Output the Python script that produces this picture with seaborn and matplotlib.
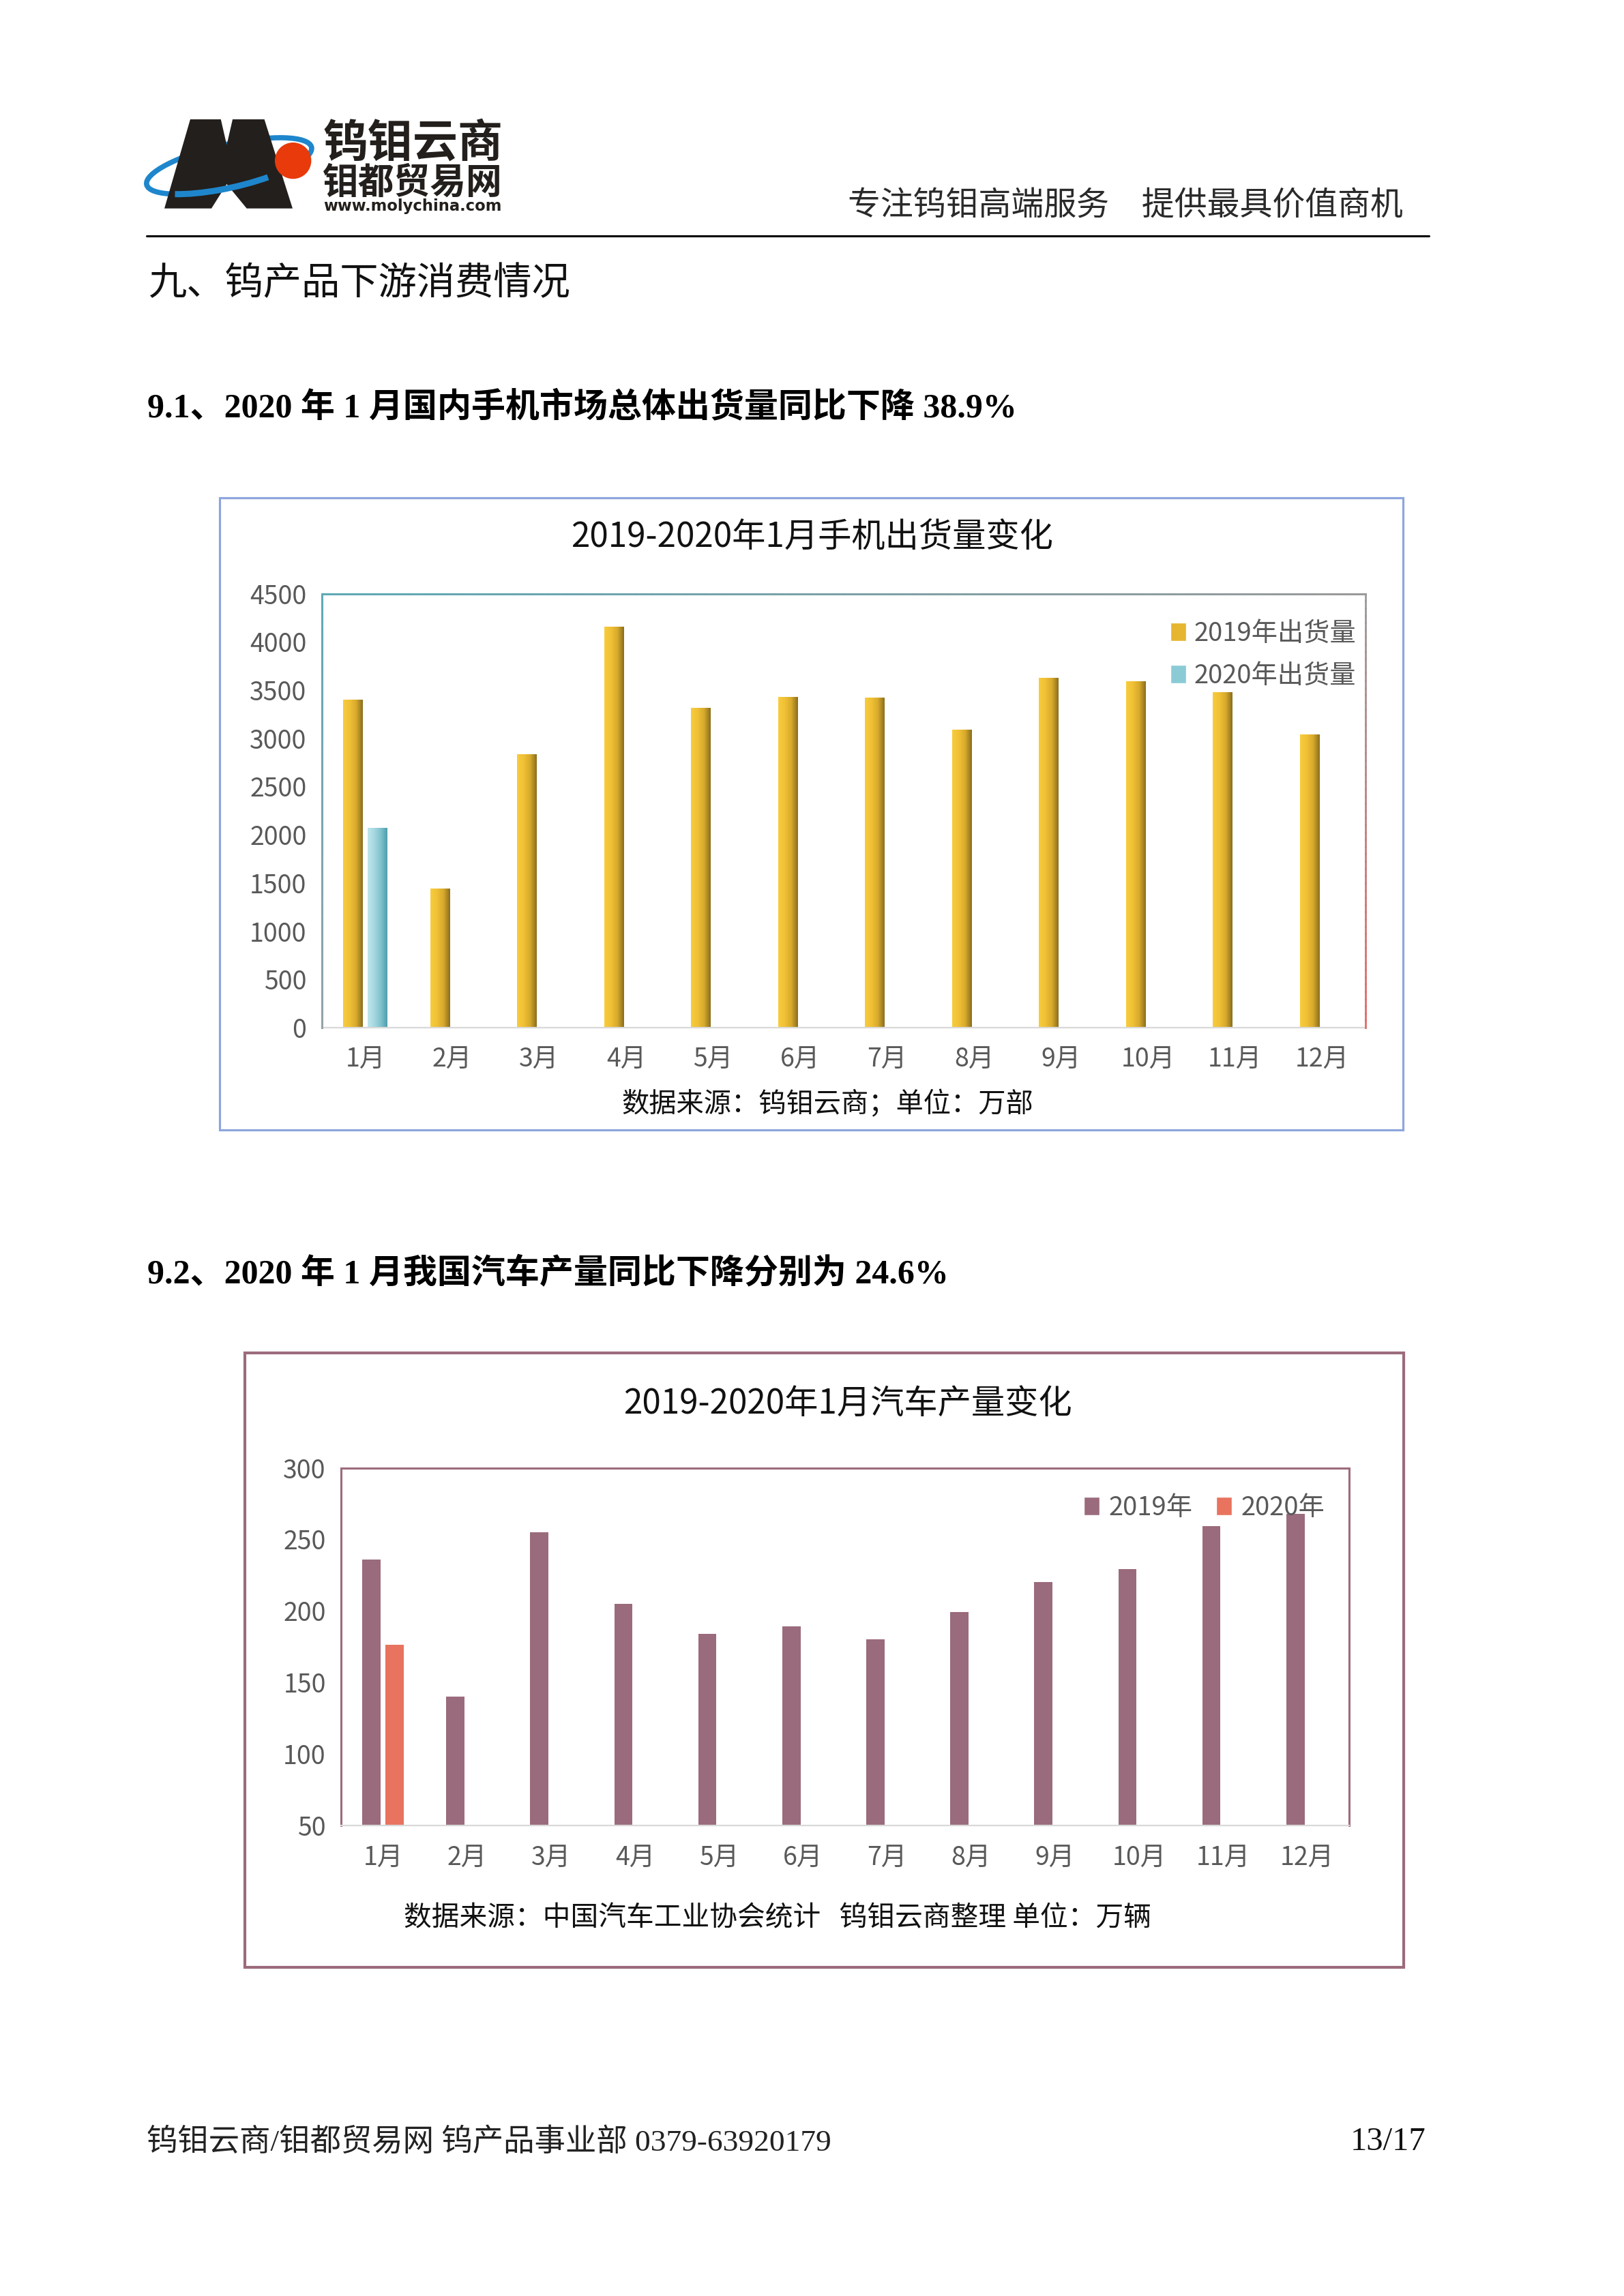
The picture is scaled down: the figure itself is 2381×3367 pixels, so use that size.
import numpy as np
import pandas as pd
import matplotlib
matplotlib.use("Agg")
import matplotlib.pyplot as plt
import seaborn as sns
from matplotlib.patches import Rectangle, Polygon, Ellipse, Arc, Patch
from matplotlib.colors import LinearSegmentedColormap, to_rgb
from matplotlib.collections import LineCollection
from matplotlib.lines import Line2D

# ---------------- data ----------------
months = ["1月", "2月", "3月", "4月", "5月", "6月", "7月", "8月", "9月", "10月", "11月", "12月"]

phone_series = ["2019年出货量", "2020年出货量"]
phone_2019 = [3400, 1445, 2835, 4155, 3315, 3430, 3420, 3090, 3625, 3595, 3480, 3040]
phone_2020 = [2070, np.nan, np.nan, np.nan, np.nan, np.nan, np.nan, np.nan, np.nan, np.nan, np.nan, np.nan]
phone_yticks = [0, 500, 1000, 1500, 2000, 2500, 3000, 3500, 4000, 4500]

car_series = ["2019年", "2020年"]
car_2019 = [236, 140, 255, 205, 184, 189, 180, 199, 220, 229, 259, 268]
car_2020 = [176, np.nan, np.nan, np.nan, np.nan, np.nan, np.nan, np.nan, np.nan, np.nan, np.nan, np.nan]
car_yticks = [50, 100, 150, 200, 250, 300]

phone_title = "2019-2020年1月手机出货量变化"
phone_source = "数据来源：钨钼云商；单位：万部"
car_title = "2019-2020年1月汽车产量变化"
car_source = "数据来源：中国汽车工业协会统计   钨钼云商整理 单位：万辆"

# ---------------- setup ----------------
sns.set_theme(style="white")
plt.rcParams["font.family"] = ["Noto Sans CJK SC", "DejaVu Sans"]
plt.rcParams["axes.unicode_minus"] = False

W, H = 2381, 3367
fig = plt.figure(figsize=(W / 100, H / 100), dpi=100)
fig.patch.set_facecolor("white")


def fx(x):
    return x / W


def fy(y):
    return 1 - y / H


def ftext(x, y, s, **kw):
    kw.setdefault("va", "center")
    return fig.text(fx(x), fy(y), s, **kw)


def add_axes_px(x0, y0, x1, y1):
    return fig.add_axes([fx(x0), fy(y1), (x1 - x0) / W, (y1 - y0) / H])


def grad_line(ax, p0, p1, c0, c1, lw, n=60):
    t = np.linspace(0, 1, n + 1)
    xs = p0[0] + (p1[0] - p0[0]) * t
    ys = p0[1] + (p1[1] - p0[1]) * t
    segs = [[(xs[i], ys[i]), (xs[i + 1], ys[i + 1])] for i in range(n)]
    a, b = np.array(to_rgb(c0)), np.array(to_rgb(c1))
    cols = [a + (b - a) * ((i + 0.5) / n) for i in range(n)]
    lc = LineCollection(segs, colors=cols, linewidths=lw, transform=ax.transAxes,
                        clip_on=False, zorder=5, capstyle="projecting")
    ax.add_collection(lc)


def long_df(series_names, s1, s2):
    df = pd.DataFrame({
        "month": months * 2,
        "series": [series_names[0]] * len(months) + [series_names[1]] * len(months),
        "value": list(s1) + list(s2),
    })
    return df.dropna()


# ---------------- header ----------------
logo = add_axes_px(210, 160, 750, 330)
logo.set_xlim(0, 1566)
logo.set_ylim(0, 510)
logo.axis("off")


def Y(y):
    return 510 - y


ring_c = (365, Y(250))
logo.add_patch(Ellipse(ring_c, 720, 190, angle=13.3, fill=False,
                       edgecolor="#1E86CC", lw=5.5, zorder=1))
m_pts = [(90, 437), (200, 45), (330, 45), (355, 158), (380, 45), (515, 45),
         (635, 437), (440, 437), (355, 330), (290, 437)]
logo.add_patch(Polygon([(x, Y(y)) for x, y in m_pts], closed=True,
                       facecolor="#231F1C", edgecolor="none", zorder=2))
logo.add_patch(Arc(ring_c, 720, 190, angle=13.3, theta1=195, theta2=330,
                   edgecolor="#1E86CC", lw=6.5, zorder=3))
logo.add_patch(Ellipse((637, Y(227)), 155, 160, facecolor="#E83A0A",
                       edgecolor="none", zorder=4))

ftext(473, 210, "钨钼云商", fontsize=47.5, fontweight="bold", color="#231F1C")
ftext(473, 268, "钼都贸易网", fontsize=38, fontweight="bold", color="#231F1C")
ftext(474, 302, "www.molychina.com", fontsize=16.3, fontweight="bold",
      color="#231F1C", family=["DejaVu Sans"])

ftext(2057, 302, "专注钨钼高端服务\u3000提供最具价值商机", fontsize=34.5,
      ha="right", color="#2a2a2a", fontweight="light")

fig.add_artist(Line2D([fx(215), fx(2095)], [fy(346), fy(346)], color="black",
                      lw=2.2, transform=fig.transFigure))

ftext(217, 416, "九、钨产品下游消费情况", fontsize=40.5, color="#111111")

head_family = ["Liberation Serif", "Noto Sans CJK SC"]
ftext(216, 598, "9.1、2020 年 1 月国内手机市场总体出货量同比下降 38.9%",
      fontsize=36, fontweight="bold", family=head_family, color="black")
ftext(216, 1869, "9.2、2020 年 1 月我国汽车产量同比下降分别为 24.6%",
      fontsize=36, fontweight="bold", family=head_family, color="black")

# ---------------- chart 1 ----------------
fig.add_artist(Rectangle((fx(322), fy(1657)), (2057 - 322) / W, (1657 - 730) / H,
                         fill=False, edgecolor="#8EA6DC", lw=2.3,
                         transform=fig.transFigure))
ax1 = add_axes_px(471.7, 870.7, 2001.7, 1507)
df1 = long_df(phone_series, phone_2019, phone_2020)
sns.barplot(data=df1, x="month", y="value", hue="series", order=months,
            hue_order=phone_series, palette=["#E6B630", "#8ACBD6"],
            width=0.566, gap=0.22, saturation=1, errorbar=None,
            linewidth=0, legend=False, ax=ax1)

cmaps1 = [
    LinearSegmentedColormap.from_list("gold", ["#F8CC3E", "#F0C035", "#D8AA2C", "#8A6E1E"]),
    LinearSegmentedColormap.from_list("aqua", ["#BFE6EC", "#A6D8E0", "#80C2CD", "#4E9EAE"]),
]
grad = np.linspace(0, 1, 128).reshape(1, -1)
for cont, cm in zip(ax1.containers, cmaps1):
    for rect in cont.patches:
        h = rect.get_height()
        if not np.isfinite(h) or h == 0:
            continue
        x0, w = rect.get_x(), rect.get_width()
        im = ax1.imshow(grad, cmap=cm, extent=[x0, x0 + w, 0, h], aspect="auto",
                        interpolation="bilinear", zorder=rect.get_zorder() + 0.1)
        im.set_clip_path(rect)

ax1.set_xlim(-0.5, len(months) - 0.5)
ax1.set_ylim(0, 4500)
ax1.set_yticks(phone_yticks)
ax1.set_xlabel("")
ax1.set_ylabel("")
ax1.tick_params(axis="both", length=0, labelsize=27, labelcolor="#595959")
ax1.tick_params(axis="y", pad=16)
ax1.tick_params(axis="x", pad=20)
for s in ["top", "left", "right"]:
    ax1.spines[s].set_visible(False)
ax1.spines["bottom"].set_color("#D9D9D9")
ax1.spines["bottom"].set_linewidth(1.6)
grad_line(ax1, (0, 1), (1, 1), "#5FA9B6", "#9A9A9A", 2.2)
grad_line(ax1, (0, 1), (0, 0), "#5FA9B6", "#93A3AA", 2.2)
grad_line(ax1, (1, 1), (1, 0), "#9A9A9A", "#E26A6A", 2.0)

h1 = [Patch(facecolor="#E6B630"), Patch(facecolor="#8ACBD6")]
ax1.legend(h1, phone_series, loc="upper right", bbox_to_anchor=(fx(1988), fy(910)),
           bbox_transform=fig.transFigure, frameon=False, fontsize=27.5,
           handlelength=0.6, handleheight=0.7, handletextpad=0.3,
           labelspacing=0.6, borderpad=0, borderaxespad=0, labelcolor="#595959")

ftext(1191, 789, phone_title, fontsize=35.5, ha="center", color="#111111")
ftext(1213, 1620, phone_source, fontsize=29, ha="center", color="#111111")

# ---------------- chart 2 ----------------
fig.add_artist(Rectangle((fx(358.6), fy(2885)), (2058 - 358.6) / W, (2885 - 1984) / H,
                         fill=False, edgecolor="#9C6B7D", lw=3,
                         transform=fig.transFigure))
ax2 = add_axes_px(500, 2152.5, 1978, 2676.5)
df2 = long_df(car_series, car_2019, car_2020)
sns.barplot(data=df2, x="month", y="value", hue="series", order=months,
            hue_order=car_series, palette=["#9A6B7C", "#E8735F"],
            width=0.556, gap=0.22, saturation=1, errorbar=None,
            linewidth=0, legend=False, ax=ax2)
ax2.set_xlim(-0.5, len(months) - 0.5)
ax2.set_ylim(50, 300)
ax2.set_yticks(car_yticks)
ax2.set_xlabel("")
ax2.set_ylabel("")
ax2.tick_params(axis="both", length=0, labelsize=27, labelcolor="#595959")
ax2.tick_params(axis="y", pad=16)
ax2.tick_params(axis="x", pad=21)
for s in ["top", "left", "right"]:
    ax2.spines[s].set_color("#9C6B7D")
    ax2.spines[s].set_linewidth(2.2)
ax2.spines["bottom"].set_color("#D9D9D9")
ax2.spines["bottom"].set_linewidth(1.6)

h2 = [Patch(facecolor="#9A6B7C"), Patch(facecolor="#E8735F")]
ax2.legend(h2, car_series, loc="upper right", bbox_to_anchor=(fx(1942), fy(2192)),
           bbox_transform=fig.transFigure, frameon=False, fontsize=27.5, ncol=2,
           handlelength=0.6, handleheight=0.7, handletextpad=0.35,
           columnspacing=0.9, borderpad=0, borderaxespad=0, labelcolor="#595959")

ftext(1243, 2060, car_title, fontsize=35.5, ha="center", color="#111111")
ftext(1140, 2813, car_source, fontsize=29.3, ha="center", color="#111111")

# ---------------- footer ----------------
ftext(215, 3141, "钨钼云商/钼都贸易网 钨产品事业部 0379-63920179", fontsize=32.7,
      family=["Liberation Serif", "Noto Sans CJK SC"], color="#222222")
ftext(2090, 3141, "13/17", fontsize=35, ha="right",
      family=["Liberation Serif"], color="#111111")

fig.savefig("out.png", dpi=100, facecolor="white")
